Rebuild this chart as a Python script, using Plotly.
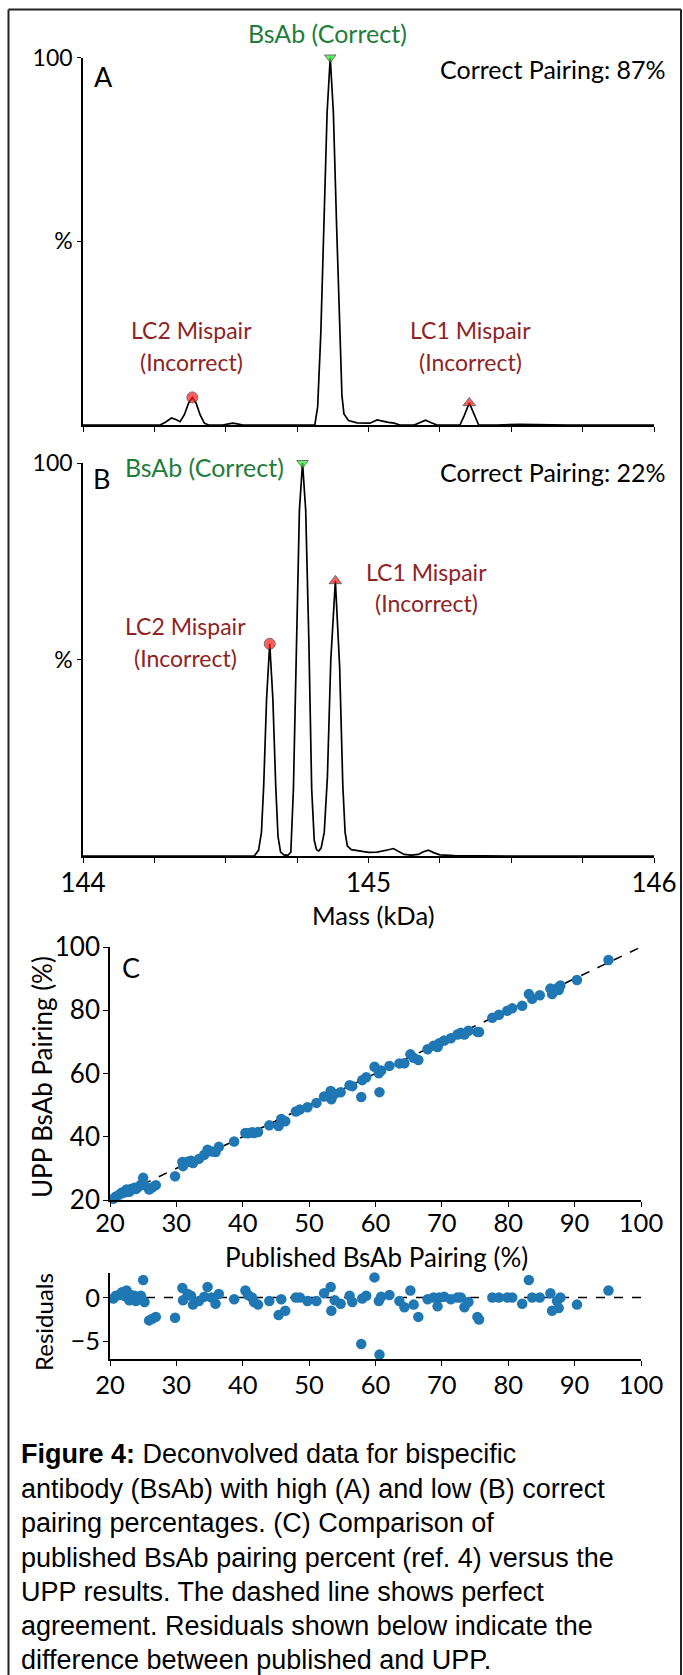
import plotly.graph_objects as go

W, H = 683, 1675

# ---------------- data ----------------
# Panel A spectrum (mass kDa, relative intensity %)
mass_a = [144.00, 144.27, 144.29, 144.31, 144.325, 144.34, 144.355, 144.37, 144.383, 144.396,
          144.41, 144.425, 144.44, 144.49, 144.51, 144.525, 144.54, 144.56, 144.60, 144.70,
          144.80, 144.812, 144.822, 144.833, 144.844, 144.855, 144.866, 144.877, 144.888, 144.899,
          144.907, 144.914, 144.93, 144.96, 144.99, 145.005, 145.03, 145.05, 145.07, 145.09,
          145.11, 145.16, 145.18, 145.20, 145.22, 145.24, 145.32, 145.335, 145.353, 145.371,
          145.386, 145.45, 145.49, 145.51, 145.53, 145.70, 146.00]
int_a = [0, 0, 0.8, 1.9, 1.5, 0.9, 2.8, 6.0, 7.5, 6.0,
         2.8, 0.5, 0, 0, 0.3, 0.5, 0.3, 0, 0, 0,
         0, 0, 5, 25, 55, 85, 100, 85, 55, 25,
         8, 3, 1.2, 0.6, 0.4, 0.5, 1.4, 1.0, 0.7, 0.5,
         0, 0, 0.6, 1.3, 0.6, 0, 0, 2.5, 6.0, 2.5,
         0, 0, 0.2, 0.3, 0.2, 0, 0]

# Panel B spectrum
mass_b = [144.00, 144.50, 144.60, 144.615, 144.625, 144.633, 144.643, 144.654, 144.665, 144.675,
          144.683, 144.692, 144.705, 144.718, 144.728, 144.737, 144.747, 144.758, 144.769, 144.780,
          144.791, 144.801, 144.810, 144.818, 144.826, 144.834, 144.845, 144.856, 144.868, 144.884,
          144.899, 144.910, 144.918, 144.926, 144.94, 144.97, 145.00, 145.03, 145.055, 145.07,
          145.087, 145.105, 145.125, 145.15, 145.175, 145.19, 145.21, 145.23, 145.25, 145.30,
          145.50, 146.00]
int_b = [0, 0, 0, 1.5, 6, 18, 40, 54, 40, 18,
         5, 1, 0.2, 0.2, 1, 17, 55, 88, 100, 88,
         55, 17, 4, 1.6, 1.3, 2, 6, 20, 50, 70,
         48, 18, 6, 2.5, 1.6, 1.2, 0.9, 1.0, 1.3, 1.6,
         1.9, 1.2, 0.4, 0.2, 0.4, 1.0, 1.5, 0.8, 0.3, 0.1,
         0, 0]

# annotated peaks: (mass, intensity)
peaks_a_mass = [144.866, 144.383, 145.353]
peaks_a_int = [100, 7.5, 6.0]
peaks_b_mass = [144.769, 144.654, 144.884]
peaks_b_int = [100, 54, 70]

# Panel C: published vs UPP BsAb pairing (%)
published = [20.5, 20.9, 21.4, 21.8, 22.15, 22.5, 22.7, 22.9, 23.15, 23.7,
             23.9, 24.2, 24.65, 25.0, 25.2, 25.9, 26.4, 26.9, 29.8, 30.9,
             31.0, 31.7, 32.2, 32.5, 33.4, 34.2, 34.7, 35.3, 35.9, 36.4,
             38.7, 40.4, 40.8, 41.4, 41.7, 42.3, 44.0, 45.4, 45.8, 46.4,
             48.0, 48.6, 49.75, 51.1, 52.25, 53.25, 53.35, 53.85, 54.75, 56.1,
             56.5, 57.85, 58.0, 58.6, 59.85, 60.5, 60.6, 60.85, 62.1, 63.6,
             64.35, 65.25, 65.75, 66.45, 67.85, 68.75, 69.35, 69.6, 70.35, 71.35,
             72.35, 72.85, 73.4, 74.0, 75.35, 75.6, 77.6, 78.6, 79.85, 80.6,
             82.1, 83.1, 83.6, 84.75, 86.35, 86.6, 87.35, 87.6, 87.85, 90.35,
             95.1]
upp = [20.4, 21.1, 21.7, 22.4, 22.35, 23.3, 22.7, 22.6, 23.45, 23.9,
       23.5, 24.0, 24.85, 27.0, 24.7, 23.3, 24.0, 24.7, 27.5, 32.0,
       30.7, 32.1, 32.4, 31.7, 33.0, 34.3, 35.9, 35.3, 35.2, 36.8,
       38.5, 41.2, 41.1, 41.4, 41.2, 41.5, 43.6, 43.4, 45.6, 44.9,
       48.0, 48.6, 49.35, 50.7, 52.75, 54.45, 51.85, 53.55, 54.05, 56.3,
       56.0, 52.55, 57.9, 58.8, 62.15, 60.1, 54.1, 60.95, 62.4, 63.2,
       63.25, 66.05, 64.95, 64.25, 67.65, 68.75, 68.35, 69.6, 70.45, 71.15,
       72.35, 72.85, 72.3, 73.5, 73.15, 73.1, 77.6, 78.6, 79.85, 80.6,
       81.4, 85.1, 83.6, 84.75, 86.85, 85.1, 86.95, 86.4, 87.85, 89.55,
       95.9]
residuals = [u - p for u, p in zip(upp, published)]

# ---------------- helpers for placement ----------------
def px(X):
    return X / W

def py(Y):
    return 1 - Y / H

FONT = "Lato"
GREEN_TXT = "#1f7d3c"
RED_TXT = "#8e2424"
BLUE = "#1f77b4"

fig = go.Figure()

# spectra
fig.add_trace(go.Scatter(x=mass_a, y=int_a, mode="lines", line=dict(color="black", width=1.7),
                         xaxis="x", yaxis="y", hoverinfo="skip"))
fig.add_trace(go.Scatter(x=mass_b, y=int_b, mode="lines", line=dict(color="black", width=1.7),
                         xaxis="x2", yaxis="y2", hoverinfo="skip"))

# peak markers
sym = ["triangle-down", "circle", "triangle-up"]
cols = ["#22ee22", "#ff1a1a", "#ff1a1a"]
for xs, ys, xa, ya in [(peaks_a_mass, peaks_a_int, "x", "y"), (peaks_b_mass, peaks_b_int, "x2", "y2")]:
    fig.add_trace(go.Scatter(x=xs, y=ys, mode="markers", xaxis=xa, yaxis=ya, cliponaxis=False,
                             marker=dict(symbol=sym, color=cols, size=[10, 11, 11],
                                         line=dict(color="#333333", width=1)),
                             hoverinfo="skip"))

# panel C: identity line + scatter
fig.add_trace(go.Scatter(x=[20, 100], y=[20, 100], mode="lines", xaxis="x3", yaxis="y3",
                         line=dict(color="black", width=1.6, dash="dash"), hoverinfo="skip"))
fig.add_trace(go.Scatter(x=published, y=upp, mode="markers", xaxis="x3", yaxis="y3", cliponaxis=False,
                         marker=dict(color=BLUE, size=10.5), hoverinfo="skip"))
# residuals
fig.add_trace(go.Scatter(x=[20, 100], y=[0, 0], mode="lines", xaxis="x4", yaxis="y4",
                         line=dict(color="black", width=1.6, dash="dash"), hoverinfo="skip"))
fig.add_trace(go.Scatter(x=published, y=residuals, mode="markers", xaxis="x4", yaxis="y4", cliponaxis=False,
                         marker=dict(color=BLUE, size=10.5), hoverinfo="skip"))

def axis_common(size):
    return dict(showline=True, linecolor="black", linewidth=1.6, ticks="outside",
                tickcolor="black", tickwidth=1.3, showgrid=False, zeroline=False,
                automargin=False, tickfont=dict(family=FONT, size=size, color="black"))

mass_ticks = [144, 144.25, 144.5, 144.75, 145, 145.25, 145.5, 145.75, 146]
mass_text = ["144", "", "", "", "145", "", "", "", "146"]

xa_dom = [px(83), px(654)]
xc_dom = [px(110), px(641)]

fig.update_layout(
    width=W, height=H, margin=dict(l=0, r=0, t=0, b=0, autoexpand=False),
    paper_bgcolor="white", plot_bgcolor="white", showlegend=False,
    xaxis=dict(domain=xa_dom, range=[144, 146], anchor="y", tickvals=mass_ticks,
               showticklabels=False, ticklen=5, **axis_common(26)),
    yaxis=dict(domain=[py(425), py(57.5)], range=[0, 100], anchor="x", tickvals=[50, 100],
               ticktext=["%", "100"], ticklen=4, **axis_common(23)),
    xaxis2=dict(domain=xa_dom, range=[144, 146], anchor="y2", tickvals=mass_ticks,
                ticktext=mass_text, ticklen=5, ticklabelstandoff=-2, **axis_common(26)),
    yaxis2=dict(domain=[py(856), py(463)], range=[0, 100], anchor="x2", tickvals=[50, 100],
                ticktext=["%", "100"], ticklen=4, **axis_common(23)),
    xaxis3=dict(domain=xc_dom, range=[20, 100], anchor="y3", tickvals=list(range(20, 101, 10)),
                ticklen=5, ticklabelstandoff=-5, **axis_common(25.5)),
    yaxis3=dict(domain=[py(1200), py(947)], range=[20, 100], anchor="x3",
                tickvals=[20, 40, 60, 80, 100], ticklen=5, ticklabelstandoff=-2, **axis_common(26)),
    xaxis4=dict(domain=xc_dom, range=[20, 100], anchor="y4", tickvals=list(range(20, 101, 10)),
                ticklen=5, ticklabelstandoff=-2, **axis_common(25.5)),
    yaxis4=dict(domain=[py(1359), py(1273)], range=[-7.0, 2.8], anchor="x4",
                tickvals=[-5, 0], ticklen=5, ticklabelstandoff=-2, **axis_common(25.5)),
)

ann = []

def text(X, Y, s, size=22, color="black", xanchor="center", family=FONT, angle=0):
    ann.append(dict(x=px(X), y=py(Y), xref="paper", yref="paper", text=s, showarrow=False,
                    xanchor=xanchor, yanchor="middle", textangle=angle,
                    font=dict(family=family, size=size, color=color)))

LBL = 23
# panel A
text(103, 76, "A", size=27)
text(327, 33, "BsAb (Correct)", size=25, color=GREEN_TXT)
text(668, 69, "Correct Pairing: 87%", size=25, xanchor="right")
text(191, 330, "LC2 Mispair", size=LBL, color=RED_TXT)
text(191, 362, "(Incorrect)", size=LBL, color=RED_TXT)
text(470, 330, "LC1 Mispair", size=LBL, color=RED_TXT)
text(470, 362, "(Incorrect)", size=LBL, color=RED_TXT)
# panel B
text(101, 478, "B", size=27)
text(204, 467, "BsAb (Correct)", size=25, color=GREEN_TXT)
text(668, 472, "Correct Pairing: 22%", size=25, xanchor="right")
text(426, 572, "LC1 Mispair", size=LBL, color=RED_TXT)
text(426, 603, "(Incorrect)", size=LBL, color=RED_TXT)
text(185, 626, "LC2 Mispair", size=LBL, color=RED_TXT)
text(185, 658, "(Incorrect)", size=LBL, color=RED_TXT)
text(373, 915, "Mass (kDa)", size=25.5)
# panel C
text(131, 967, "C", size=27)
text(42, 1077, "UPP BsAb Pairing (%)", size=26, angle=-90)
text(376, 1257, "Published BsAb Pairing (%)", size=26)
text(43, 1322, "Residuals", size=24, angle=-90)

# caption
cap_lines = ["<b>Figure 4:</b> Deconvolved data for bispecific",
             "antibody (BsAb) with high (A) and low (B) correct",
             "pairing percentages. (C) Comparison of",
             "published BsAb pairing percent (ref. 4) versus the",
             "UPP results. The dashed line shows perfect",
             "agreement. Residuals shown below indicate the",
             "difference between published and UPP."]
cap_y = [1454, 1489, 1523, 1558, 1592, 1626, 1660]
for s, yy in zip(cap_lines, cap_y):
    text(19, yy, s, size=27, xanchor="left", family="Liberation Sans")

fig.update_layout(annotations=ann)

# outer frame (left, top, right edges; bottom is cut off in the original)
frame = dict(xref="paper", yref="paper", line=dict(color="#222222", width=2), layer="above")
fig.add_shape(type="line", x0=px(8.5), x1=px(8.5), y0=0, y1=py(9.5), **frame)
fig.add_shape(type="line", x0=px(8.5), x1=px(681), y0=py(9.5), y1=py(9.5), **frame)
fig.add_shape(type="line", x0=px(681), x1=px(681), y0=0, y1=py(9.5), **frame)

fig.write_html("out.html", config={"displayModeBar": False},
               post_script="document.body.style.margin='0';document.body.style.padding='0';document.body.style.overflow='hidden';")
